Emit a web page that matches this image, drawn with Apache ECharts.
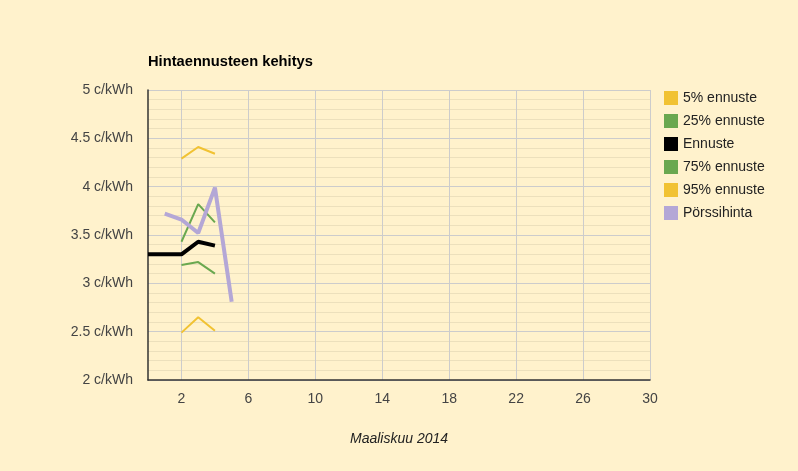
<!doctype html>
<html lang="fi">
<head>
<meta charset="UTF-8" />
<title>Hintaennusteen kehitys</title>
<script src="https://cdn.jsdelivr.net/npm/echarts@6/dist/echarts.min.js"></script>
<style>
    html, body { margin: 0; padding: 0; background: #fff2cc; }
    #chart { width: 798px; height: 471px; }
</style>
</head>
<body>
<div id="chart"></div>
<script>
    // päivät (maaliskuu 2014)
    var ennusteDays = [0, 1, 2, 3, 4];
    var bandDays = [2, 3, 4];
    var spotDays = [1, 2, 3, 4, 5];

    // arvot c/kWh
    var p5 = [2.49, 2.65, 2.51];
    var p25 = [3.19, 3.22, 3.10];
    var ennuste = [3.30, 3.30, 3.30, 3.43, 3.39];
    var p75 = [3.43, 3.82, 3.63];
    var p95 = [4.29, 4.41, 4.34];
    var porssi = [3.72, 3.66, 3.52, 3.99, 2.81];

    var xTicks = [2, 6, 10, 14, 18, 22, 26, 30];

    function pairs(xs, ys) {
        return xs.map(function (x, i) { return [x, ys[i]]; });
    }

    function line(name, xs, ys, color, width) {
        return {
            name: name,
            type: 'line',
            data: pairs(xs, ys),
            showSymbol: false,
            symbol: 'none',
            color: color,
            lineStyle: { color: color, width: width },
            emphasis: { disabled: true }
        };
    }

    var chart = echarts.init(document.getElementById('chart'));
    chart.setOption({
        backgroundColor: '#fff2cc',
        animation: false,
        textStyle: { fontFamily: 'Liberation Sans, Arial, sans-serif' },
        title: {
            text: 'Hintaennusteen kehitys',
            left: 143,
            top: 49,
            textStyle: { fontSize: 14.7, fontWeight: 'bold', color: '#000' }
        },
        legend: {
            orient: 'vertical',
            left: 659,
            top: 86,
            itemWidth: 14,
            itemHeight: 14,
            itemGap: 9,
            icon: 'rect',
            textStyle: { fontSize: 14, color: '#222' },
            data: ['5% ennuste', '25% ennuste', 'Ennuste', '75% ennuste', '95% ennuste', 'Pörssihinta']
        },
        grid: { left: 148, right: 148, top: 90, bottom: 91, containLabel: false },
        xAxis: {
            type: 'value',
            min: 0,
            max: 30,
            name: 'Maaliskuu 2014',
            nameLocation: 'middle',
            nameGap: 52,
            nameTextStyle: { fontStyle: 'italic', fontSize: 14, color: '#222' },
            axisLine: { show: true, onZero: false, lineStyle: { color: '#333', width: 1.5 } },
            axisTick: { show: false, customValues: xTicks },
            axisLabel: { customValues: xTicks, fontSize: 14, color: '#444', margin: 12 },
            splitLine: { show: true, lineStyle: { color: '#cccccc', width: 1 } }
        },
        yAxis: {
            type: 'value',
            min: 2,
            max: 5,
            interval: 0.5,
            axisLine: { show: true, lineStyle: { color: '#333', width: 1.5 } },
            axisTick: { show: false },
            axisLabel: {
                fontSize: 14,
                color: '#444',
                margin: 15,
                formatter: function (v) { return v + ' c/kWh'; }
            },
            splitLine: { show: true, lineStyle: { color: '#cccccc', width: 1 } },
            minorTick: { show: false, splitNumber: 5 },
            minorSplitLine: { show: true, lineStyle: { color: '#ece0bc', width: 1 } }
        },
        series: [
            line('5% ennuste', bandDays, p5, '#f1c232', 2),
            line('25% ennuste', bandDays, p25, '#6aa84f', 2),
            line('Ennuste', ennusteDays, ennuste, '#000000', 4),
            line('75% ennuste', bandDays, p75, '#6aa84f', 2),
            line('95% ennuste', bandDays, p95, '#f1c232', 2),
            line('Pörssihinta', spotDays, porssi, '#b4a7d6', 4)
        ]
    });
</script>
</body>
</html>
